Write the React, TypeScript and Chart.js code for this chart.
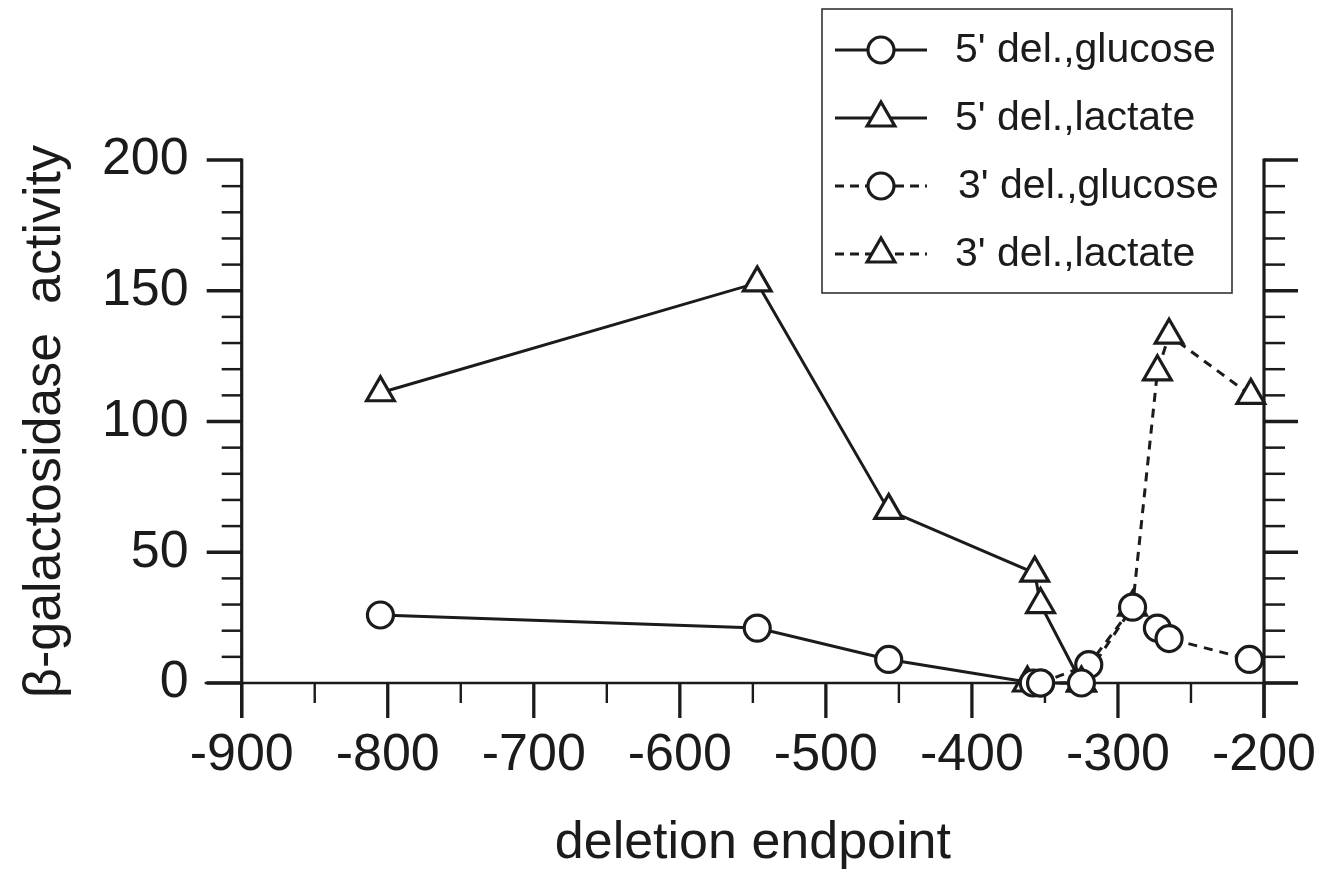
import React, { useEffect, useRef } from "react";
import { Chart, registerables } from "chart.js";

Chart.register(...registerables);

// ---- data ----
const seriesLabels = ["5' del.,glucose", "5' del.,lactate", "3' del.,glucose", "3' del.,lactate"];

const glucose5X = [-805, -547, -457, -358, -353, -325];
const glucose5Y = [26, 21, 9, 0, 0, 0];

const lactate5X = [-805, -547, -457, -357, -353, -325];
const lactate5Y = [111, 153, 66, 42, 30, 0];

const glucose3X = [-353, -320, -290, -273, -265, -210];
const glucose3Y = [0, 7, 29, 21, 17, 9];

const lactate3X = [-362, -325, -290, -273, -265, -209];
const lactate3Y = [0, 0, 29, 119, 133, 110];

const xMin = -900;
const xMax = -200;
const xMajorStep = 100;
const xMinorStep = 50;
const yMin = 0;
const yMax = 200;
const yMajorStep = 50;
const yMinorStep = 10;

const xTitle = "deletion endpoint";
const yTitle = "β-galactosidase  activity";

const FONT = "'Liberation Sans', Arial, Helvetica, sans-serif";
const INK = "#1b1b1b";

function seg(ctx: CanvasRenderingContext2D, x1: number, y1: number, x2: number, y2: number, w: number) {
  ctx.beginPath();
  ctx.lineWidth = w;
  ctx.moveTo(x1, y1);
  ctx.lineTo(x2, y2);
  ctx.stroke();
}

function drawMarker(ctx: CanvasRenderingContext2D, style: string, x: number, y: number, r: number, bw: number) {
  ctx.beginPath();
  if (style === "triangle") {
    let rad = 0;
    const step = (2 * Math.PI) / 3;
    ctx.moveTo(x + Math.sin(rad) * r, y - Math.cos(rad) * r);
    rad += step;
    ctx.lineTo(x + Math.sin(rad) * r, y - Math.cos(rad) * r);
    rad += step;
    ctx.lineTo(x + Math.sin(rad) * r, y - Math.cos(rad) * r);
    ctx.closePath();
  } else {
    ctx.arc(x, y, r, 0, Math.PI * 2);
  }
  ctx.fillStyle = "#ffffff";
  ctx.fill();
  ctx.lineWidth = bw;
  ctx.strokeStyle = INK;
  ctx.stroke();
}

const axesPlugin = {
  id: "figAxes",
  beforeDatasetsDraw(chart: any) {
    const { ctx } = chart;
    const xs = chart.scales.x;
    const ys = chart.scales.y;
    const x0 = xs.getPixelForValue(xMin);
    const x1 = xs.getPixelForValue(xMax);
    const y0 = ys.getPixelForValue(yMin);
    const y1 = ys.getPixelForValue(yMax);
    ctx.save();
    ctx.strokeStyle = INK;
    ctx.lineCap = "butt";
    // horizontal axis line
    seg(ctx, x0 - 37, y0, x1 + 34, y0, 2.7);
    // left and right vertical axes
    seg(ctx, x0, y1 - 1.5, x0, y0 + 35, 3.2);
    seg(ctx, x1, y1 - 1.5, x1, y0 + 35, 3.2);
    for (let v = yMin; v <= yMax; v += yMinorStep) {
      const py = ys.getPixelForValue(v);
      const major = v % yMajorStep === 0;
      seg(ctx, x0 - (major ? 35 : 20), py, x0, py, major ? 3.6 : 2.5);
      seg(ctx, x1, py, x1 + (major ? 34 : 21), py, major ? 3.6 : 2.5);
    }
    for (let v = xMin; v <= xMax; v += xMinorStep) {
      const px = xs.getPixelForValue(v);
      const major = Math.abs(v % xMajorStep) === 0;
      seg(ctx, px, y0, px, y0 + (major ? 35 : 20), major ? 3.3 : 2.4);
    }
    ctx.restore();
  },
};

const legendPlugin = {
  id: "figLegend",
  afterDraw(chart: any) {
    const { ctx } = chart;
    ctx.save();
    ctx.lineWidth = 1.6;
    ctx.strokeStyle = "#333";
    ctx.strokeRect(822, 9, 410, 284);
    chart.data.datasets.forEach((ds: any, i: number) => {
      const cy = 50 + i * 68;
      ctx.strokeStyle = INK;
      ctx.setLineDash(ds.borderDash && ds.borderDash.length ? [9, 6] : []);
      seg(ctx, 835, cy, 927, cy, 3);
      ctx.setLineDash([]);
      drawMarker(ctx, ds.pointStyle, 881, cy, ds.pointRadius, ds.pointBorderWidth);
      ctx.fillStyle = INK;
      ctx.font = `41px ${FONT}`;
      ctx.textAlign = "left";
      ctx.textBaseline = "alphabetic";
      ctx.fillText(ds.label, i === 2 ? 958 : 955, cy + 12);
    });
    ctx.restore();
  },
};

function pts(xs: number[], ys: number[]) {
  return xs.map((x, i) => ({ x, y: ys[i] }));
}

export default function App() {
  const canvasRef = useRef<HTMLCanvasElement | null>(null);

  useEffect(() => {
    document.body.style.margin = "0";
    document.body.style.background = "#ffffff";
    const canvas = canvasRef.current;
    if (!canvas) return;

    const base = (label: string, data: any[], style: string, dashed: boolean) => ({
      label,
      data,
      borderColor: INK,
      borderWidth: 3,
      borderDash: dashed ? [9, 7] : [],
      backgroundColor: "#ffffff",
      pointStyle: style,
      pointRadius: style === "triangle" ? 16 : 13,
      pointBorderWidth: 3.2,
      pointBackgroundColor: "#ffffff",
      pointBorderColor: INK,
      pointHoverRadius: style === "triangle" ? 16 : 13,
      tension: 0,
      fill: false,
      clip: false as any,
    });

    const chart = new Chart(canvas, {
      type: "line",
      data: {
        datasets: [
          base(seriesLabels[0], pts(glucose5X, glucose5Y), "circle", false),
          base(seriesLabels[1], pts(lactate5X, lactate5Y), "triangle", false),
          base(seriesLabels[2], pts(glucose3X, glucose3Y), "circle", true),
          base(seriesLabels[3], pts(lactate3X, lactate3Y), "triangle", true),
        ] as any,
      },
      options: {
        animation: false,
        responsive: true,
        maintainAspectRatio: false,
        events: [],
        layout: { padding: { top: 160, right: 0, left: 0, bottom: 0 } },
        plugins: {
          legend: { display: false },
          tooltip: { enabled: false },
        },
        scales: {
          x: {
            type: "linear",
            position: "bottom",
            min: xMin,
            max: xMax,
            grid: { display: false, drawTicks: true, tickLength: 41 },
            border: { display: false },
            ticks: {
              stepSize: xMajorStep,
              autoSkip: false,
              maxRotation: 0,
              padding: 0,
              color: INK,
              font: { family: FONT, size: 52, lineHeight: 1.2 },
            },
            title: {
              display: true,
              text: xTitle,
              color: INK,
              font: { family: FONT, size: 52, lineHeight: 1.2 },
              padding: { top: 0, bottom: 2 },
            },
            afterFit(scale: any) {
              scale.height = 194;
            },
          },
          y: {
            type: "linear",
            position: "left",
            min: yMin,
            max: yMax,
            grid: { display: false, drawTicks: true, tickLength: 53 },
            border: { display: false },
            ticks: {
              stepSize: yMajorStep,
              padding: 0,
              color: INK,
              font: { family: FONT, size: 52, lineHeight: 1.2 },
            },
            title: {
              display: true,
              text: yTitle,
              color: INK,
              font: { family: FONT, size: 52, lineHeight: 1.2 },
              padding: { top: 14, bottom: 0 },
            },
            afterFit(scale: any) {
              scale.width = 241.7;
            },
          },
          y2: {
            type: "linear",
            position: "right",
            min: yMin,
            max: yMax,
            grid: { display: false, drawTicks: false },
            border: { display: false },
            ticks: { display: false },
            afterFit(scale: any) {
              scale.width = 57;
            },
          },
        },
      } as any,
      plugins: [axesPlugin, legendPlugin],
    });

    return () => {
      chart.destroy();
    };
  }, []);

  return (
    <div style={{ position: "absolute", left: 0, top: 0, width: 1321, height: 877, background: "#ffffff" }}>
      <canvas ref={canvasRef} />
    </div>
  );
}
